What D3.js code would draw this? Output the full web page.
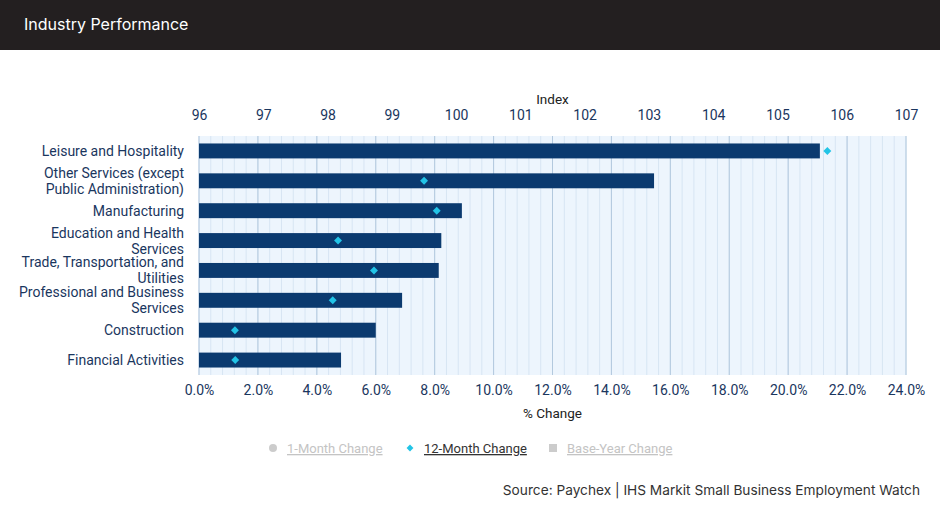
<!DOCTYPE html>
<html>
<head>
<meta charset="utf-8">
<script src="https://cdn.jsdelivr.net/npm/d3@7"></script>
<style>
  body { margin: 0; background: #fff; }
  svg { display: block; }
</style>
</head>
<body>
<svg id="chart" width="940" height="515"></svg>
<script>
// 数据
const categories = [
  "Leisure and Hospitality",
  "Other Services (except|Public Administration)",
  "Manufacturing",
  "Education and Health|Services",
  "Trade, Transportation, and|Utilities",
  "Professional and Business|Services",
  "Construction",
  "Financial Activities"
];
const indexValues = [105.66, 103.08, 100.09, 99.77, 99.73, 99.16, 98.75, 98.21];
const change12m = [21.33, 7.64, 8.07, 4.72, 5.94, 4.54, 1.22, 1.23];
const indexTicks = [96, 97, 98, 99, 100, 101, 102, 103, 104, 105, 106, 107];
const pctTicks = [0, 2, 4, 6, 8, 10, 12, 14, 16, 18, 20, 22, 24];
const legendItems = ["1-Month Change", "12-Month Change", "Base-Year Change"];

const svg = d3.select("#chart");
const W = 940, H = 515;
const margin = { left: 199, right: 34, top: 136, bottom: 140 };
const plotW = W - margin.left - margin.right;
const plotH = H - margin.top - margin.bottom;

const textColor = "#1a365e";
const fontTick = "Roboto, 'Noto Sans', sans-serif";

// 标题栏
svg.append("rect").attr("x", 0).attr("y", 0).attr("width", W).attr("height", 50).attr("fill", "#231f20");
svg.append("text").attr("x", 24).attr("y", 30)
  .attr("font-family", "Inter, 'Open Sans', sans-serif").attr("font-size", 16)
  .attr("fill", "#fff").text("Industry Performance");

// 比例尺
const xIndex = d3.scaleLinear().domain([96, 107]).range([0, plotW]);
const xPct = d3.scaleLinear().domain([0, 24]).range([0, plotW]);
const y = d3.scaleBand().domain(categories).range([0, plotH]).paddingInner(0.5).paddingOuter(0.25);

const g = svg.append("g").attr("transform", `translate(${margin.left},${margin.top})`);

// 背景与网格
g.append("rect").attr("width", plotW).attr("height", plotH).attr("fill", "#edf5fd");
const minor = d3.range(0, 24.001, 0.4);
g.selectAll(".minor").data(minor).join("line")
  .attr("x1", d => xPct(d)).attr("x2", d => xPct(d))
  .attr("y1", 0).attr("y2", plotH)
  .attr("stroke", "#d7e5f3").attr("stroke-width", 1);
g.selectAll(".major").data(pctTicks).join("line")
  .attr("x1", d => xPct(d)).attr("x2", d => xPct(d))
  .attr("y1", 0).attr("y2", plotH)
  .attr("stroke", "#b3c9de").attr("stroke-width", 1);

// 柱
g.selectAll(".bar").data(categories).join("rect")
  .attr("x", 0)
  .attr("y", d => y(d))
  .attr("width", (d, i) => xIndex(indexValues[i]))
  .attr("height", y.bandwidth())
  .attr("fill", "#0b3a6f");

// 菱形点
const diamond = d3.symbol().type(d3.symbolDiamond2).size(40);
g.selectAll(".pt").data(categories).join("path")
  .attr("d", diamond)
  .attr("transform", (d, i) => `translate(${xPct(change12m[i])},${y(d) + y.bandwidth() / 2})`)
  .attr("fill", "#22c4e6");

// 上轴 (Index)
const topAxis = g.append("g")
  .call(d3.axisTop(xIndex).tickValues(indexTicks).tickSize(0).tickPadding(16));
topAxis.select(".domain").remove();
topAxis.selectAll("text").attr("font-family", fontTick).attr("font-size", 14).attr("fill", textColor);
g.append("text").attr("x", plotW / 2).attr("y", -32).attr("text-anchor", "middle")
  .attr("font-family", fontTick).attr("font-size", 13.5).attr("fill", "#222").text("Index");

// 下轴 (% Change)
const bottomAxis = g.append("g").attr("transform", `translate(0,${plotH})`)
  .call(d3.axisBottom(xPct).tickValues(pctTicks).tickFormat(d => d.toFixed(1) + "%").tickSize(0).tickPadding(10));
bottomAxis.select(".domain").remove();
bottomAxis.selectAll("text").attr("font-family", fontTick).attr("font-size", 14).attr("fill", textColor);
g.append("text").attr("x", plotW / 2).attr("y", plotH + 43).attr("text-anchor", "middle")
  .attr("font-family", fontTick).attr("font-size", 13.5).attr("fill", "#222").text("% Change");

// 类别标签
g.selectAll(".cat").data(categories).join("text")
  .attr("x", -15)
  .attr("y", d => y(d) + y.bandwidth() / 2)
  .attr("text-anchor", "end")
  .attr("font-family", fontTick).attr("font-size", 14).attr("fill", textColor)
  .each(function(d) {
    const lines = d.split("|");
    const t = d3.select(this);
    lines.forEach((ln, k) => {
      t.append("tspan").attr("x", -15)
        .attr("dy", k === 0 ? ((-(lines.length - 1) * 16) / 2 + 5) : 16)
        .text(ln);
    });
  });

// 图例
const legY = 448;
const legX = [273, 410, 553];
const lg = svg.append("g").attr("font-family", fontTick).attr("font-size", 13);
legendItems.forEach((name, i) => {
  const active = i === 1;
  const col = active ? "#22c4e6" : "#cccccc";
  const cx = legX[i];
  if (i === 0) lg.append("circle").attr("cx", cx).attr("cy", legY).attr("r", 4).attr("fill", col);
  if (i === 1) lg.append("path").attr("d", d3.symbol().type(d3.symbolDiamond2).size(30)).attr("transform", `translate(${cx},${legY})`).attr("fill", col);
  if (i === 2) lg.append("rect").attr("x", cx - 4).attr("y", legY - 4).attr("width", 8).attr("height", 8).attr("fill", col);
  lg.append("text").attr("x", cx + 14).attr("y", legY + 5)
    .attr("fill", active ? "#333" : "#c4c4c4")
    .attr("text-decoration", "underline")
    .text(name);
});

// 来源
svg.append("text").attr("x", 920).attr("y", 495).attr("text-anchor", "end")
  .attr("font-family", "Inter, 'Open Sans', sans-serif").attr("font-size", 13.7).attr("fill", "#333")
  .text("Source: Paychex | IHS Markit Small Business Employment Watch");
</script>
</body>
</html>
